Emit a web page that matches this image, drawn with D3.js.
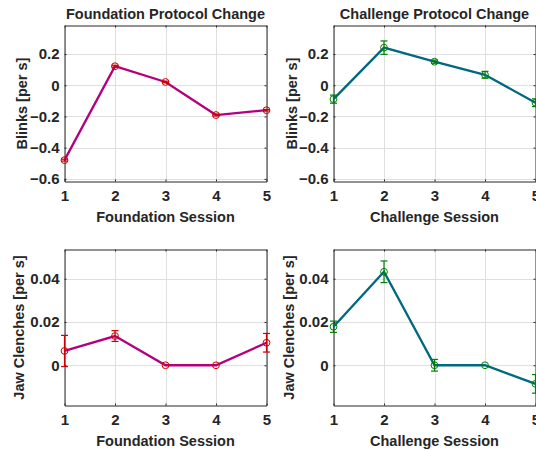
<!DOCTYPE html>
<html>
<head>
<meta charset="utf-8">
<script src="https://cdn.jsdelivr.net/npm/d3@7"></script>
<style>
	body { margin: 0; background: #fff; }
	svg { display: block; }
	text { font-family: "Liberation Sans", Arial, Helvetica, sans-serif; font-weight: bold; fill: #262626; }
</style>
</head>
<body>
<div id="chartDiv"></div>
<script>
var sessions = [1, 2, 3, 4, 5];
var sessionTicks = [1, 2, 3, 4, 5];

var foundationBlinks = [-0.48, 0.122, 0.021, -0.191, -0.16];
var foundationBlinksErr = [0.006, 0.006, 0.005, 0.006, 0.005];
var challengeBlinks = [-0.089, 0.241, 0.151, 0.067, -0.112];
var challengeBlinksErr = [0.026, 0.043, 0.01, 0.022, 0.025];
var blinkTicks = [-0.6, -0.4, -0.2, 0, 0.2];

var foundationJaw = [0.0066, 0.0135, 0, 0, 0.0104];
var foundationJawErr = [0.0072, 0.0025, 0, 0, 0.0043];
var challengeJaw = [0.0178, 0.0432, 0, 0, -0.0086];
var challengeJawErr = [0.0026, 0.005, 0.0027, 0, 0.0043];
var jawTicks = [0, 0.02, 0.04];

;(function() {

	var width = 536;
	var height = 450;

	var foundationLine = "#b3007f";
	var foundationMarker = "#cc0000";
	var challengeLine = "#00687f";
	var challengeMarker = "#007f00";

	var panels = [
		{ left: 64.5, right: 266.5, top: 25.5, bottom: 181.5, yDomain: [-0.617, 0.383], yTicks: blinkTicks, yFormat: d3.format(".1f"),
			values: foundationBlinks, errs: foundationBlinksErr, line: foundationLine, marker: foundationMarker,
			title: "Foundation Protocol Change", xLabel: "Foundation Session", yLabel: "Blinks [per s]", yLabelX: 27 },
		{ left: 333.5, right: 535.5, top: 25.5, bottom: 181.5, yDomain: [-0.617, 0.383], yTicks: blinkTicks, yFormat: d3.format(".1f"),
			values: challengeBlinks, errs: challengeBlinksErr, line: challengeLine, marker: challengeMarker,
			title: "Challenge Protocol Change", xLabel: "Challenge Session", yLabel: "Blinks [per s]", yLabelX: 297 },
		{ left: 64.5, right: 266.5, top: 249.5, bottom: 405.5, yDomain: [-0.0186, 0.0535], yTicks: jawTicks, yFormat: d3.format(".2f"),
			values: foundationJaw, errs: foundationJawErr, line: foundationLine, marker: foundationMarker,
			title: null, xLabel: "Foundation Session", yLabel: "Jaw Clenches [per s]", yLabelX: 24 },
		{ left: 333.5, right: 535.5, top: 249.5, bottom: 405.5, yDomain: [-0.0186, 0.0535], yTicks: jawTicks, yFormat: d3.format(".2f"),
			values: challengeJaw, errs: challengeJawErr, line: challengeLine, marker: challengeMarker,
			title: null, xLabel: "Challenge Session", yLabel: "Jaw Clenches [per s]", yLabelX: 294 }
	];

	var chart = d3.select("#chartDiv").append("svg")
		.attr("width", width)
		.attr("height", height);

	panels.forEach(drawPanel);

	function fmtTick(f) {
		return function(d) { return d === 0 ? "0" : f(d); };
	}

	function drawPanel(p) {
		var xScale = d3.scaleLinear().domain([1, 5]).range([p.left, p.right]);
		var yScale = d3.scaleLinear().domain(p.yDomain).range([p.bottom, p.top]);
		var g = chart.append("g");

		// grid
		g.selectAll(".vgrid").data(sessionTicks).enter().append("line")
			.attr("x1", d => Math.round(xScale(d)) + 0.5).attr("x2", d => Math.round(xScale(d)) + 0.5)
			.attr("y1", p.top).attr("y2", p.bottom)
			.attr("stroke", "#dfdfdf").attr("stroke-width", 1);

		g.selectAll(".hgrid").data(p.yTicks).enter().append("line")
			.attr("x1", p.left).attr("x2", p.right)
			.attr("y1", d => Math.round(yScale(d)) + 0.5).attr("y2", d => Math.round(yScale(d)) + 0.5)
			.attr("stroke", "#dfdfdf").attr("stroke-width", 1);

		// axes (box on, ticks inward)
		var xAxis = d3.axisBottom(xScale).tickValues(sessionTicks).tickSizeInner(-2).tickSizeOuter(0).tickPadding(9).tickFormat(d3.format("d"));
		var xAxisTop = d3.axisTop(xScale).tickValues(sessionTicks).tickSizeInner(-2).tickSizeOuter(0).tickFormat("");
		var yAxis = d3.axisLeft(yScale).tickValues(p.yTicks).tickSizeInner(-2).tickSizeOuter(0).tickPadding(5).tickFormat(fmtTick(p.yFormat));
		var yAxisRight = d3.axisRight(yScale).tickValues(p.yTicks).tickSizeInner(-2).tickSizeOuter(0).tickFormat("");

		[
			g.append("g").attr("transform", "translate(0," + p.bottom + ")").call(xAxis),
			g.append("g").attr("transform", "translate(0," + p.top + ")").call(xAxisTop),
			g.append("g").attr("transform", "translate(" + p.left + ",0)").call(yAxis),
			g.append("g").attr("transform", "translate(" + p.right + ",0)").call(yAxisRight)
		].forEach(function(ax) {
			ax.select(".domain").attr("stroke", "#262626").attr("stroke-width", 1);
			ax.selectAll(".tick line").attr("stroke", "#262626");
			ax.selectAll(".tick text")
				.attr("font-family", "Liberation Sans, Arial, sans-serif")
				.attr("font-weight", "bold")
				.attr("font-size", 15)
				.attr("fill", "#262626");
		});

		// line
		var line = d3.line()
			.x((d, i) => xScale(sessions[i]))
			.y(d => yScale(d));

		g.append("path")
			.datum(p.values)
			.attr("fill", "none")
			.attr("stroke", p.line)
			.attr("stroke-width", 2.3)
			.attr("d", line);

		// error bars
		var pts = p.values.map((v, i) => ({ x: sessions[i], y: v, e: p.errs[i] }));
		var eb = g.selectAll(".eb").data(pts.filter(d => d.e > 0)).enter().append("g")
			.attr("stroke", p.marker).attr("stroke-width", 1.2);
		eb.append("line")
			.attr("x1", d => xScale(d.x)).attr("x2", d => xScale(d.x))
			.attr("y1", d => yScale(d.y - d.e)).attr("y2", d => yScale(d.y + d.e));
		eb.append("line")
			.attr("x1", d => xScale(d.x) - 3.5).attr("x2", d => xScale(d.x) + 3.5)
			.attr("y1", d => yScale(d.y - d.e)).attr("y2", d => yScale(d.y - d.e));
		eb.append("line")
			.attr("x1", d => xScale(d.x) - 3.5).attr("x2", d => xScale(d.x) + 3.5)
			.attr("y1", d => yScale(d.y + d.e)).attr("y2", d => yScale(d.y + d.e));

		// markers
		g.selectAll(".dot").data(pts).enter().append("circle")
			.attr("cx", d => xScale(d.x))
			.attr("cy", d => yScale(d.y))
			.attr("r", 3.4)
			.attr("fill", "none")
			.attr("stroke", p.marker)
			.attr("stroke-width", 1);

		// labels
		var midX = (p.left + p.right) / 2;
		if (p.title) {
			g.append("text")
				.attr("x", midX).attr("y", p.top - 7)
				.attr("text-anchor", "middle")
				.style("font-size", "14.5px")
				.text(p.title);
		}
		g.append("text")
			.attr("x", midX).attr("y", p.bottom + 40)
			.attr("text-anchor", "middle")
			.style("font-size", "14.5px")
			.text(p.xLabel);
		g.append("text")
			.attr("text-anchor", "middle")
			.attr("transform", "translate(" + p.yLabelX + "," + ((p.top + p.bottom) / 2) + ") rotate(-90)")
			.style("font-size", "14.5px")
			.text(p.yLabel);
	}

})();
</script>
</body>
</html>
